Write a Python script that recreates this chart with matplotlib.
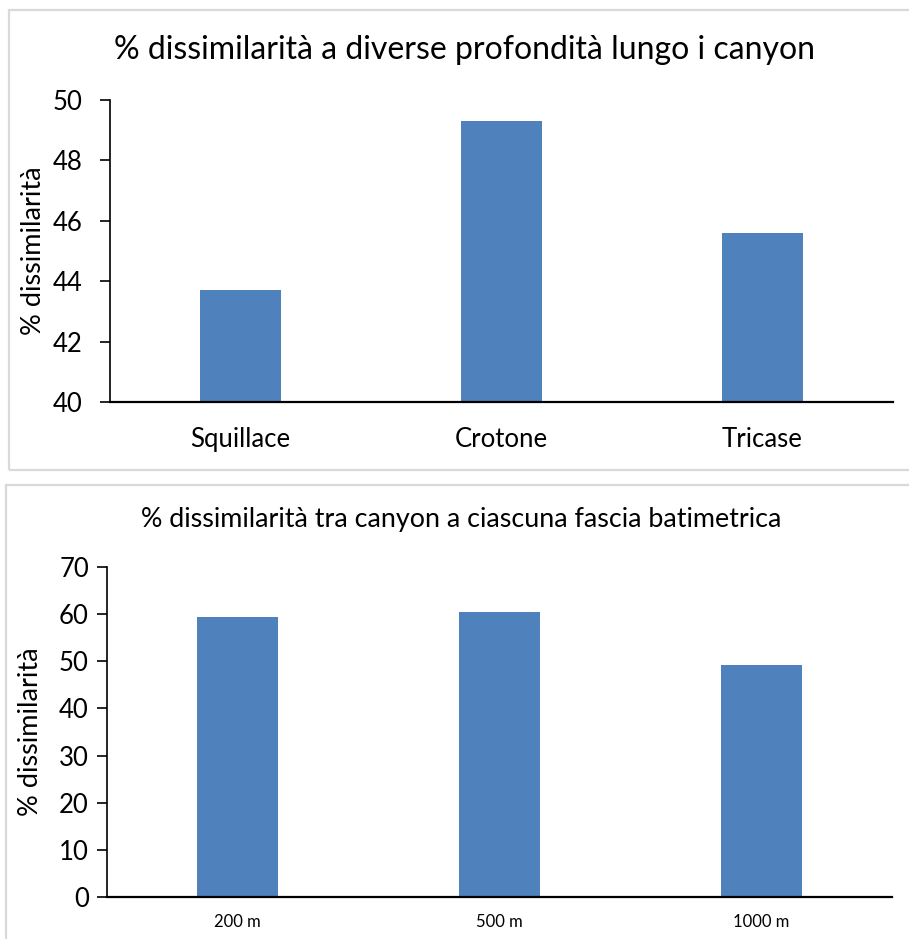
import matplotlib.pyplot as plt
from matplotlib.patches import Rectangle

plt.rcParams['font.family'] = ['Lato', 'DejaVu Sans']

# dati
canyon = ['Squillace', 'Crotone', 'Tricase']
diss_canyon = [43.7, 49.3, 45.6]

fasce = ['200 m', '500 m', '1000 m']
diss_fasce = [59.4, 60.45, 49.2]

colore = '#4F81BD'
W, H = 909, 939

fig = plt.figure(figsize=(W / 100, H / 100), dpi=100)

# cornici dei due grafici (in pixel)
def cornice(x0, y0, x1, y1):
    fig.patches.append(Rectangle((x0 / W, 1 - y1 / H), (x1 - x0) / W, (y1 - y0) / H,
                                 transform=fig.transFigure, fill=False,
                                 edgecolor='#D9D9D9', linewidth=1.6))

cornice(9, 10, 912, 470)
cornice(6, 485, 912, 945)


def stile(ax):
    for s in ['top', 'right']:
        ax.spines[s].set_visible(False)
    ax.spines['left'].set_linewidth(1.2)
    ax.spines['bottom'].set_linewidth(1.6)
    ax.tick_params(axis='x', length=0)
    ax.tick_params(axis='y', length=7, width=1.2, direction='out')


# grafico 1
ax1 = fig.add_axes([110 / W, 1 - 402 / H, 783 / W, 302 / H])
ax1.bar(range(len(canyon)), diss_canyon, width=0.31, color=colore)
ax1.set_xlim(-0.5, 2.5)
ax1.set_ylim(40, 50)
ax1.set_yticks(range(40, 51, 2))
ax1.set_xticks(range(len(canyon)))
ax1.set_xticklabels(canyon, fontsize=18.5)
ax1.tick_params(axis='y', labelsize=18.5, pad=13)
ax1.tick_params(axis='x', pad=18)
ax1.set_ylabel('% dissimilarità', fontsize=19.5)
ax1.yaxis.set_label_coords(-0.082, 0.5)
stile(ax1)
fig.text(465 / W, 1 - 50 / H, '% dissimilarità a diverse profondità lungo i canyon',
         ha='center', va='center', fontsize=23)

# grafico 2
ax2 = fig.add_axes([107 / W, 1 - 897 / H, 785 / W, 330 / H])
ax2.bar(range(len(fasce)), diss_fasce, width=0.31, color=colore)
ax2.set_xlim(-0.5, 2.5)
ax2.set_ylim(0, 70)
ax2.set_yticks(range(0, 71, 10))
ax2.set_xticks(range(len(fasce)))
ax2.set_xticklabels(fasce, fontsize=12)
ax2.tick_params(axis='y', labelsize=18.5, pad=6)
ax2.tick_params(axis='x', pad=12)
ax2.set_ylabel('% dissimilarità', fontsize=19.5)
ax2.yaxis.set_label_coords(-0.081, 0.5)
stile(ax2)
fig.text(461 / W, 1 - 520 / H, '% dissimilarità tra canyon a ciascuna fascia batimetrica',
         ha='center', va='center', fontsize=19.4)

fig.savefig('out.png', dpi=100)
